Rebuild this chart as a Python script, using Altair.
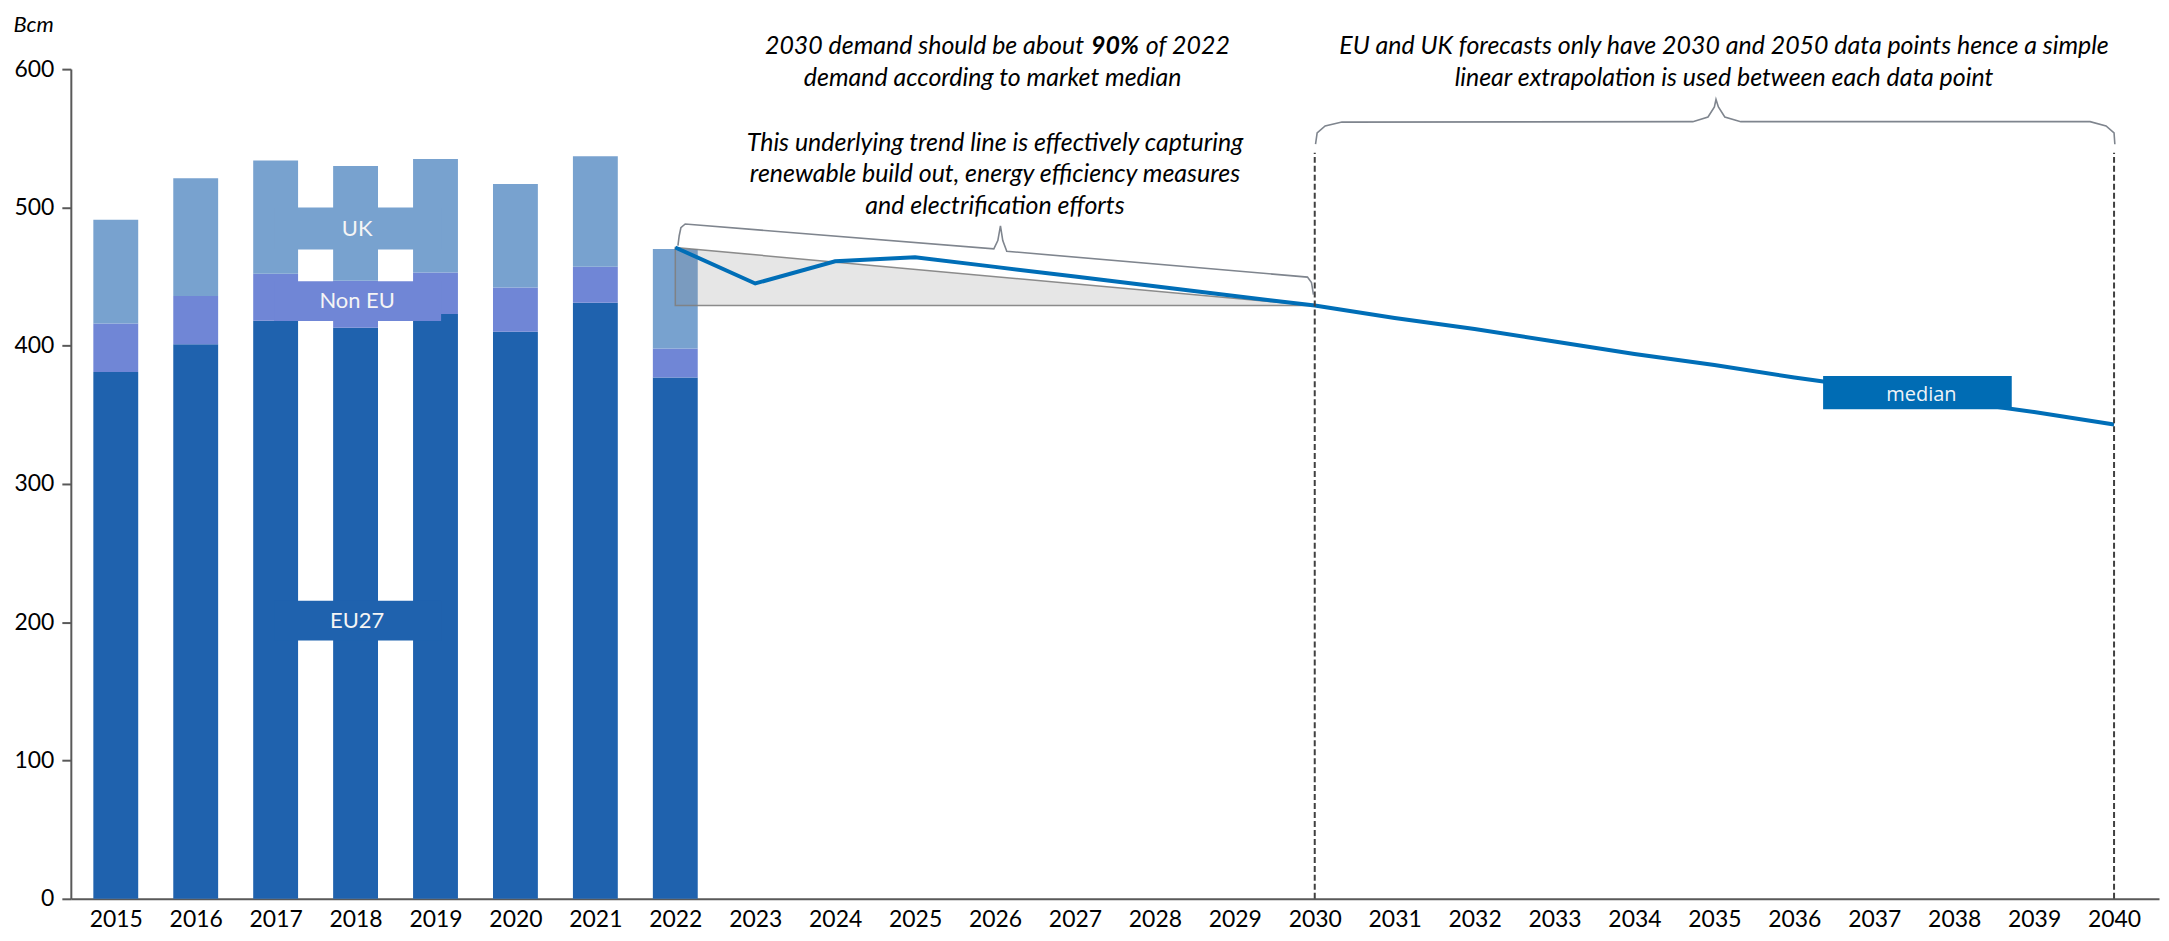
import altair as alt
import pandas as pd

# ---------------- data ----------------
hist_years = [2015, 2016, 2017, 2018, 2019, 2020, 2021, 2022]
eu27 = [381, 401, 418, 413, 423, 410, 431, 377]
non_eu = [35, 35, 34, 34, 30, 32, 26, 21]
uk = [75, 85, 82, 83, 82, 75, 80, 72]

series_names = ["EU27", "Non EU", "UK"]
series_colors = ["#1F62AE", "#7086D6", "#78A2CF"]

median_years = list(range(2022, 2041))
median_vals = [471, 445, 461, 464, 457, 450, 443, 436, 429,
               420, 412, 403, 394, 386, 377, 369, 360, 352, 343]

tick_years = list(range(2015, 2041))
y_ticks = [0, 100, 200, 300, 400, 500, 600]

# in-chart series labels (boxes centred on 2018)
label_names = ["UK", "Non EU", "EU27"]
label_x0 = [2016.98, 2016.98, 2016.98]
label_x1 = [2019.07, 2019.07, 2019.07]
label_y0 = [469.5, 417.8, 186.8]
label_y1 = [500.0, 446.6, 215.6]
label_xc = [2018.02, 2018.02, 2018.02]
label_yc = [484.7, 432.0, 201.0]

# median label box
median_box_x = [2036.36, 2038.72]
median_box_y = [354.0, 378.1]
median_text_pos = [2037.59, 364.3]

# forecast range markers
range_years = [2030, 2040]
range_top = 539.5

# braces (annotation geometry in data space)
brace1_x = [2022.033, 2022.049, 2022.07, 2022.124, 2025.985, 2026.035, 2026.068,
            2026.097, 2026.147, 2029.909, 2029.959, 2029.984]
brace1_y = [472.3, 479.5, 485.3, 488.0, 470.0, 476.0, 486.6,
            476.0, 468.3, 449.6, 445.7, 437.0]
brace2_x = [2030.01, 2030.03, 2030.13, 2030.34, 2034.73, 2034.92, 2035.0, 2035.02,
            2035.05, 2035.13, 2035.33, 2039.70, 2039.90, 2040.0, 2040.01]
brace2_y = [545.7, 553.9, 558.9, 561.7, 562.0, 565.4, 572.6, 578.1,
            572.6, 565.4, 562.0, 562.0, 558.9, 553.9, 545.7]

# annotation texts
note_a1_left = "2030 demand should be about"
note_a1_bold = "90%"
note_a1_right = "of 2022"
note_a2 = "demand according to market median"
note_a_x_bold = 2027.50
note_a_x_center = 2025.97
note_b = ["This underlying trend line is effectively capturing",
          "renewable build out, energy efficiency measures",
          "and electrification  efforts"]
note_b_x = 2026.0
note_b_y = [546.6, 524.3, 501.2]
note_c = ["EU and UK forecasts only have 2030 and 2050 data points hence a simple",
          "linear extrapolation is used between each data point"]
note_c_x = 2035.12
line_y_top = [616.6, 593.5]

# ---------------- tables ----------------
rows = []
for i, yr in enumerate(hist_years):
    for rank, (name, vals) in enumerate(zip(series_names, [eu27, non_eu, uk])):
        rows.append({"year": yr, "series": name, "value": vals[i], "rank": rank})
bars_df = pd.DataFrame(rows)

labels_df = pd.DataFrame({
    "series": label_names, "x0": label_x0, "x1": label_x1,
    "y0": label_y0, "y1": label_y1, "xc": label_xc, "yc": label_yc,
})

median_df = pd.DataFrame({"year": median_years, "value": median_vals})

i22 = median_years.index(2022)
i30 = median_years.index(2030)
tri_df = pd.DataFrame({
    "year": [2022, 2030],
    "top": [median_vals[i22], median_vals[i30]],
    "bottom": [median_vals[i30], median_vals[i30]],
})

mbox_df = pd.DataFrame({"x0": [median_box_x[0]], "x1": [median_box_x[1]],
                        "y0": [median_box_y[0]], "y1": [median_box_y[1]],
                        "tx": [median_text_pos[0]], "ty": [median_text_pos[1]],
                        "label": ["median"]})

range_df = pd.DataFrame({"year": range_years, "y0": [0, 0], "y1": [range_top, range_top]})

brace_rows = []
for bid, (bx, by) in enumerate([(brace1_x, brace1_y), (brace2_x, brace2_y)]):
    for k, (xx, yy) in enumerate(zip(bx, by)):
        brace_rows.append({"id": bid, "i": k, "x": xx, "y": yy})
brace_df = pd.DataFrame(brace_rows)

# ---------------- encodings ----------------
x_scale = alt.Scale(domain=[2014.5, 2040.5], nice=False, zero=False)
y_scale = alt.Scale(domain=[0, 600], nice=False)
color_scale = alt.Scale(domain=series_names, range=series_colors)

x_axis = alt.Axis(values=tick_years, format="d", ticks=False, grid=False,
                  labelFont="Lato", labelFontSize=23, labelColor="#000000",
                  labelPadding=10, labelFlush=False, labelOverlap=False,
                  domainColor="#595959", domainWidth=2, title=None)
y_axis = alt.Axis(values=y_ticks, grid=False, tickSize=9, tickWidth=2,
                  tickColor="#595959", domainColor="#595959", domainWidth=2,
                  labelFont="Lato", labelFontSize=23, labelColor="#000000",
                  labelPadding=8, title="Bcm", titleAngle=0, titleX=-58,
                  titleY=-38, titleAlign="left", titleBaseline="alphabetic",
                  titleFont="Lato", titleFontStyle="italic", titleFontSize=22,
                  titleFontWeight="normal", titleColor="#000000")

bars = alt.Chart(bars_df).mark_bar(size=45).encode(
    x=alt.X("year:Q", scale=x_scale, axis=x_axis),
    y=alt.Y("value:Q", stack="zero", scale=y_scale, axis=y_axis),
    color=alt.Color("series:N", scale=color_scale, legend=None),
    order=alt.Order("rank:Q"),
)

label_boxes = alt.Chart(labels_df).mark_rect().encode(
    x="x0:Q", x2="x1:Q", y="y0:Q", y2="y1:Q",
    color=alt.Color("series:N", scale=color_scale, legend=None),
)
label_text = alt.Chart(labels_df).mark_text(
    font="Lato", fontSize=22, color="#F5F5F5", baseline="middle", align="center"
).encode(x="xc:Q", y="yc:Q", text="series:N")

triangle = alt.Chart(tri_df).mark_area(
    fill="#808080", fillOpacity=0.2, stroke="#7F7F7F", strokeOpacity=0.9, strokeWidth=1.5
).encode(x="year:Q", y="top:Q", y2="bottom:Q")

median_line = alt.Chart(median_df).mark_line(color="#006EB7", strokeWidth=4).encode(
    x="year:Q", y="value:Q")

median_box = alt.Chart(mbox_df).mark_rect(color="#006CB4").encode(
    x="x0:Q", x2="x1:Q", y="y0:Q", y2="y1:Q")
median_txt = alt.Chart(mbox_df).mark_text(
    font="Open Sans", fontSize=20, color="#EEF3F8", baseline="middle", align="center"
).encode(x="tx:Q", y="ty:Q", text="label:N")

ranges = alt.Chart(range_df).mark_rule(
    color="#404040", strokeWidth=2, strokeDash=[6, 3]
).encode(x="year:Q", y="y0:Q", y2="y1:Q")

braces = alt.Chart(brace_df).mark_line(color="#7F858E", strokeWidth=1.6).encode(
    x="x:Q", y="y:Q", detail="id:N", order="i:Q")

txt_style = dict(font="Lato", fontStyle="italic", fontSize=25, color="#000000",
                 baseline="middle")

def note(x, y, text, align="center", dx=0, weight="normal"):
    df = pd.DataFrame({"x": [x], "y": [y], "t": [text]})
    return alt.Chart(df).mark_text(align=align, dx=dx, fontWeight=weight, **txt_style).encode(
        x="x:Q", y="y:Q", text="t:N")

notes = [
    note(note_a_x_bold, line_y_top[0], note_a1_left, align="right", dx=-31),
    note(note_a_x_bold, line_y_top[0], note_a1_bold, align="center", weight="bold"),
    note(note_a_x_bold, line_y_top[0], note_a1_right, align="left", dx=31),
    note(note_a_x_center, line_y_top[1], note_a2),
    note(note_c_x, line_y_top[0], note_c[0]),
    note(note_c_x, line_y_top[1], note_c[1]),
]
for t, yy in zip(note_b, note_b_y):
    notes.append(note(note_b_x, yy, t))

chart = alt.layer(
    bars, label_boxes, label_text, triangle, median_line, median_box, median_txt,
    ranges, braces, *notes
).properties(
    width=2094, height=832,
    padding={"left": 63, "top": 60, "right": 2, "bottom": 34},
    autosize=alt.AutoSizeParams(type="none"),
).configure_view(stroke=None)

chart.save("out.html", embed_options={"renderer": "svg", "actions": False})
